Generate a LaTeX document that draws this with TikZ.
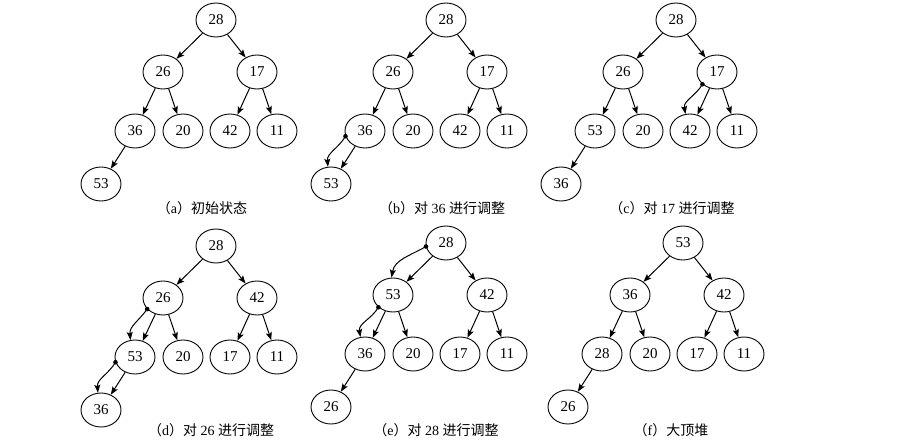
\documentclass[tikz,border=0pt]{standalone}
\usepackage{fontspec}
\setmainfont{Liberation Serif}
\newfontfamily\cjk{Noto Sans CJK SC}
\usetikzlibrary{shapes.geometric,arrows.meta}
\tikzset{
  nd/.style={draw,ellipse,line width=0.9pt,minimum width=40pt,minimum height=34pt,inner sep=0pt,font=\fontsize{15}{17}\selectfont},
  edge/.style={line width=1pt,-{Stealth[length=8pt,width=6pt,inset=1.5pt]}},
  captxt/.style={font=\fontsize{14}{16}\selectfont,inner sep=0pt}
}
\newcommand\heap[9]{%
  \node[nd] (#1r) at (0,0) {#2};
  \node[nd] (#1a) at (-53,-52) {#3};
  \node[nd] (#1b) at (41,-52) {#4};
  \node[nd] (#1c) at (-81,-111) {#5};
  \node[nd] (#1d) at (-33,-111) {#6};
  \node[nd] (#1e) at (14,-111) {#7};
  \node[nd] (#1f) at (61,-111) {#8};
  \node[nd] (#1g) at (-115,-164) {#9};
  \foreach \p/\q in {r/a,r/b,a/c,a/d,b/e,b/f,c/g} \draw[edge] (#1\p) -- (#1\q);
}
\newcommand\swapmark[6]{%
  \fill (#1.#3) circle (2.3pt);
  \draw[edge] (#1.#3) to[out=#4,in=#5] (#2.#6);
}
\begin{document}
\begin{tikzpicture}[x=1pt,y=1pt]
\useasboundingbox (0,0) rectangle (914,-444);
\begin{scope}[shift={(216,-20)}]\heap{A}{28}{26}{17}{36}{20}{42}{11}{53}\end{scope}
\begin{scope}[shift={(446,-20)}]\heap{B}{28}{26}{17}{36}{20}{42}{11}{53}\end{scope}
\begin{scope}[shift={(676,-20)}]\heap{C}{28}{26}{17}{53}{20}{42}{11}{36}\end{scope}
\begin{scope}[shift={(216,-246)}]\heap{D}{28}{26}{42}{53}{20}{17}{11}{36}\end{scope}
\begin{scope}[shift={(446,-243)}]\heap{E}{28}{53}{42}{36}{20}{17}{11}{26}\end{scope}
\begin{scope}[shift={(683,-243)}]\heap{F}{53}{36}{42}{28}{20}{17}{11}{26}\end{scope}
\swapmark{Bc}{Bg}{195}{240}{95}{100}
\swapmark{Cb}{Ce}{220}{240}{100}{105}
\swapmark{Da}{Dc}{215}{235}{95}{105}
\swapmark{Dc}{Dg}{195}{240}{95}{100}
\swapmark{Er}{Ea}{190}{210}{80}{95}
\swapmark{Ea}{Ec}{220}{240}{100}{105}
\node[captxt] (capA) at (202,-208) {{\cjk （}a{\cjk ）初始状态}};
\node[captxt] (capB) at (442,-208) {{\cjk （}b{\cjk ）对} 36 {\cjk 进行调整}};
\node[captxt] (capC) at (672,-208) {{\cjk （}c{\cjk ）对} 17 {\cjk 进行调整}};
\node[captxt] (capD) at (211,-430) {{\cjk （}d{\cjk ）对} 26 {\cjk 进行调整}};
\node[captxt] (capE) at (436,-430) {{\cjk （}e{\cjk ）对} 28 {\cjk 进行调整}};
\node[captxt] (capF) at (671,-430) {{\cjk （}f{\cjk ）大顶堆}};
\end{tikzpicture}
\end{document}
